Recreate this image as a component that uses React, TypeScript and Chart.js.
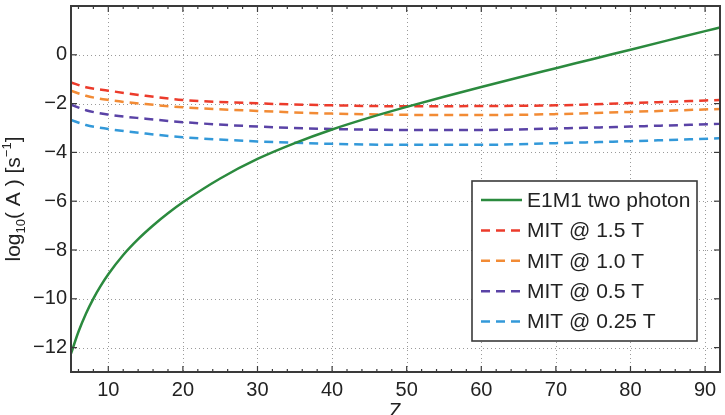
import React, { useEffect, useRef } from 'react';
import { Chart, registerables } from 'chart.js';

Chart.register(...registerables);

// ---- data ----
const zE1M1 = [5, 6, 7, 8, 9, 10, 12, 14, 16, 18, 20, 25, 30, 35, 40, 45, 50, 55, 60, 65, 70, 75, 80, 85, 90, 92];
const e1m1TwoPhoton = [-12.25, -11.35, -10.61, -9.99, -9.46, -8.995, -8.205, -7.555, -6.995, -6.495, -6.045, -5.07, -4.27, -3.62, -3.06, -2.575, -2.135, -1.72, -1.32, -0.93, -0.55, -0.17, 0.21, 0.59, 0.97, 1.12];

const zMIT = [5, 7, 10, 15, 20, 30, 40, 50, 60, 70, 80, 92];
const mit15T = [-1.13, -1.33, -1.47, -1.68, -1.85, -1.99, -2.07, -2.11, -2.1, -2.07, -1.98, -1.85];
const mit10T = [-1.47, -1.68, -1.85, -2.02, -2.15, -2.3, -2.41, -2.46, -2.47, -2.43, -2.34, -2.22];
const mit05T = [-2.04, -2.27, -2.45, -2.62, -2.76, -2.94, -3.04, -3.08, -3.08, -3.02, -2.94, -2.83];
const mit025T = [-2.67, -2.88, -3.04, -3.23, -3.38, -3.55, -3.65, -3.69, -3.69, -3.62, -3.54, -3.42];

const seriesLabels = ['E1M1 two photon', 'MIT @ 1.5 T', 'MIT @ 1.0 T', 'MIT @ 0.5 T', 'MIT @ 0.25 T'];
const seriesColors = ['#2b8a3e', '#ec3b2b', '#f28b35', '#5a43a6', '#3399d9'];

const xTickValues = [10, 20, 30, 40, 50, 60, 70, 80, 90];
const yTickValues = [-12, -10, -8, -6, -4, -2, 0];
const xMinorTickValues = [6, 8, 12, 14, 16, 18, 22, 24, 26, 28, 32, 34, 36, 38, 42, 44, 46, 48, 52, 54, 56, 58, 62, 64, 66, 68, 72, 74, 76, 78, 82, 84, 86, 88, 92];
const xTitle = 'Z';

const FONT = "'Liberation Sans', Arial, Helvetica, sans-serif";
const TEXT = '#222222';
const AXIS = '#3a3a3a';

const fmt = (v: number) => (v < 0 ? '\u2212' + Math.abs(v) : String(v));

const gridPlugin = {
  id: 'matlabGrid',
  beforeDatasetsDraw(chart: any) {
    const { ctx, chartArea: a, scales } = chart;
    ctx.save();
    ctx.strokeStyle = '#9a9a9a';
    ctx.lineWidth = 1;
    ctx.setLineDash([1, 3]);
    xTickValues.forEach((v) => {
      const x = Math.round(scales.x.getPixelForValue(v)) + 0.5;
      ctx.beginPath();
      ctx.moveTo(x, a.top);
      ctx.lineTo(x, a.bottom);
      ctx.stroke();
    });
    yTickValues.forEach((v) => {
      const y = Math.round(scales.y.getPixelForValue(v)) + 0.5;
      ctx.beginPath();
      ctx.moveTo(a.left, y);
      ctx.lineTo(a.right, y);
      ctx.stroke();
    });
    ctx.restore();
  },
};

const framePlugin = {
  id: 'matlabFrame',
  afterDraw(chart: any) {
    const { ctx, chartArea: a, scales } = chart;
    ctx.save();
    // inward ticks
    ctx.strokeStyle = AXIS;
    ctx.lineWidth = 1.2;
    const tick = (x1: number, y1: number, x2: number, y2: number) => {
      ctx.beginPath();
      ctx.moveTo(x1, y1);
      ctx.lineTo(x2, y2);
      ctx.stroke();
    };
    xTickValues.forEach((v) => {
      const x = scales.x.getPixelForValue(v);
      tick(x, a.bottom, x, a.bottom - 6);
      tick(x, a.top, x, a.top + 6);
    });
    xMinorTickValues.forEach((v) => {
      const x = scales.x.getPixelForValue(v);
      tick(x, a.bottom, x, a.bottom - 3);
      tick(x, a.top, x, a.top + 3);
    });
    yTickValues.forEach((v) => {
      const y = scales.y.getPixelForValue(v);
      tick(a.left, y, a.left + 6, y);
      tick(a.right, y, a.right - 6, y);
    });
    // box
    ctx.lineWidth = 2;
    ctx.strokeRect(a.left, a.top, a.right - a.left, a.bottom - a.top);

    // legend
    const bx = a.right - 248;
    const by = a.bottom - 191;
    const bw = 225;
    const bh = 160;
    ctx.fillStyle = '#ffffff';
    ctx.fillRect(bx, by, bw, bh);
    ctx.lineWidth = 1.6;
    ctx.strokeStyle = AXIS;
    ctx.strokeRect(bx, by, bw, bh);
    chart.data.datasets.forEach((ds: any, i: number) => {
      const cy = by + 19 + i * 30.4;
      ctx.strokeStyle = ds.borderColor;
      ctx.lineWidth = 2.5;
      ctx.setLineDash(ds.borderDash && ds.borderDash.length ? [9, 6] : []);
      ctx.beginPath();
      ctx.moveTo(bx + 9, cy);
      ctx.lineTo(bx + 50, cy);
      ctx.stroke();
      ctx.setLineDash([]);
      ctx.fillStyle = TEXT;
      ctx.font = `21px ${FONT}`;
      ctx.textBaseline = 'middle';
      ctx.textAlign = 'left';
      ctx.fillText(ds.label, bx + 55, cy + 1);
    });

    // x title (partly cut at the bottom, as in the reference)
    ctx.fillStyle = TEXT;
    ctx.font = `20px ${FONT}`;
    ctx.textAlign = 'center';
    ctx.textBaseline = 'alphabetic';
    ctx.fillText(xTitle, (a.left + a.right) / 2, 417);

    // y title: log10( A ) [s^-1]
    const pieces = [
      { t: 'log', size: 21, dy: 0 },
      { t: '10', size: 13, dy: 5 },
      { t: '( A ) [s', size: 21, dy: 0 },
      { t: '\u22121', size: 13, dy: -9 },
      { t: ']', size: 21, dy: 0 },
    ];
    let total = 0;
    pieces.forEach((p) => {
      ctx.font = `${p.size}px ${FONT}`;
      total += ctx.measureText(p.t).width;
    });
    ctx.translate(20, 199);
    ctx.rotate(-Math.PI / 2);
    ctx.textAlign = 'left';
    let px = -total / 2;
    pieces.forEach((p) => {
      ctx.font = `${p.size}px ${FONT}`;
      ctx.fillText(p.t, px, p.dy);
      px += ctx.measureText(p.t).width;
    });
    ctx.restore();
  },
};

export default function App() {
  const canvasRef = useRef<HTMLCanvasElement | null>(null);

  useEffect(() => {
    const canvas = canvasRef.current;
    if (!canvas) return;
    const mitSets = [mit15T, mit10T, mit05T, mit025T];
    const chart = new Chart(canvas, {
      type: 'line',
      data: {
        datasets: [
          {
            label: seriesLabels[0],
            data: zE1M1.map((z, i) => ({ x: z, y: e1m1TwoPhoton[i] })),
            borderColor: seriesColors[0],
            borderWidth: 2.5,
            pointRadius: 0,
            cubicInterpolationMode: 'monotone',
            fill: false,
          },
          ...mitSets.map((vals, k) => ({
            label: seriesLabels[k + 1],
            data: zMIT.map((z, i) => ({ x: z, y: vals[i] })),
            borderColor: seriesColors[k + 1],
            borderWidth: 2.5,
            borderDash: [9, 6],
            pointRadius: 0,
            cubicInterpolationMode: 'monotone' as const,
            fill: false,
          })),
        ],
      },
      options: {
        animation: false,
        responsive: false,
        events: [],
        layout: { padding: { top: 6, right: 5, left: 0, bottom: 0 } },
        plugins: {
          legend: { display: false },
          tooltip: { enabled: false },
          title: { display: false },
        },
        scales: {
          x: {
            type: 'linear',
            min: 5,
            max: 92,
            grid: { display: false, drawTicks: false },
            border: { display: false },
            afterBuildTicks: (s: any) => {
              s.ticks = xTickValues.map((v) => ({ value: v }));
            },
            afterFit: (s: any) => {
              s.height = 43;
              s.paddingLeft = 0;
              s.paddingRight = 0;
            },
            ticks: {
              autoSkip: false,
              maxRotation: 0,
              padding: 6,
              color: TEXT,
              font: { family: FONT, size: 20 },
              callback: (v: any) => fmt(Number(v)),
            },
          },
          y: {
            type: 'linear',
            min: -13,
            max: 2,
            grid: { display: false, drawTicks: false },
            border: { display: false },
            afterBuildTicks: (s: any) => {
              s.ticks = yTickValues.map((v) => ({ value: v }));
            },
            afterFit: (s: any) => {
              s.width = 71;
              s.paddingTop = 0;
              s.paddingBottom = 0;
            },
            ticks: {
              autoSkip: false,
              padding: 4,
              color: TEXT,
              font: { family: FONT, size: 20 },
              callback: (v: any) => fmt(Number(v)),
            },
          },
        },
      },
      plugins: [gridPlugin, framePlugin],
    } as any);
    return () => chart.destroy();
  }, []);

  return (
    <div style={{ position: 'fixed', left: 0, top: 0, width: 725, height: 415, background: '#ffffff' }}>
      <canvas ref={canvasRef} width={725} height={415} style={{ display: 'block' }} />
    </div>
  );
}
